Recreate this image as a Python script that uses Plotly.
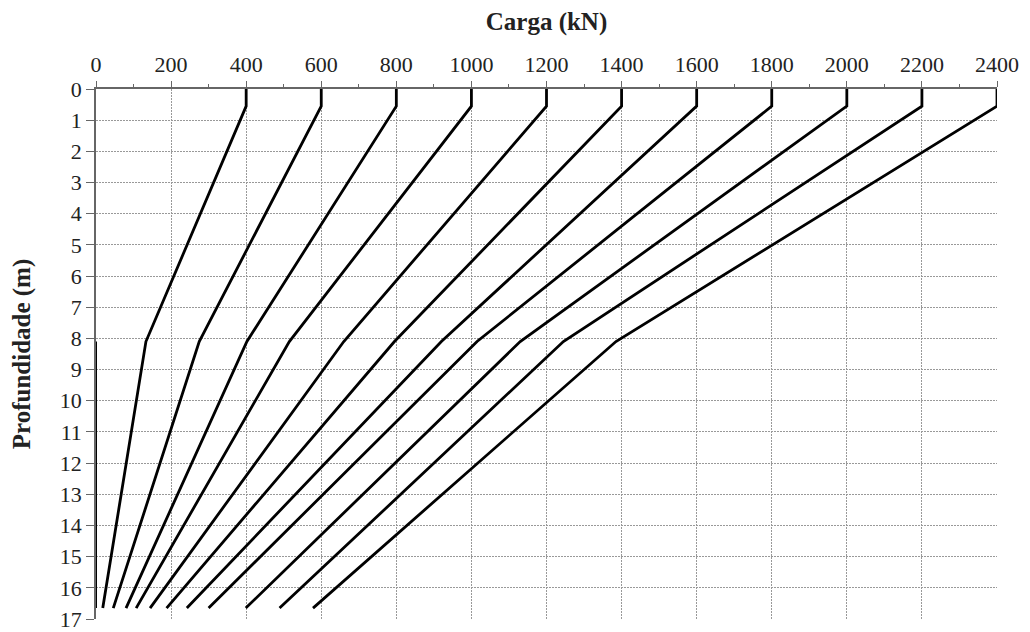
import plotly.graph_objects as go

# Load at head of pile (kN) for each curve
loads = [400, 600, 800, 1000, 1200, 1400, 1600, 1800, 2000, 2200, 2400]
# Load at ~8.1 m (change of slope)
knee_loads = [133, 275, 402, 515, 660, 795, 920, 1015, 1130, 1245, 1385]
# Load at the pile tip (~16.65 m)
tip_loads = [18, 46, 80, 107, 144, 188, 242, 300, 399, 489, 578]
# Depths of the profile points (m)
depths = [0, 0.55, 8.1, 16.65]
# Extra segment drawn along the vertical axis
axis_seg_x = [0, 0]
axis_seg_y = [8.1, 16.65]

fig = go.Figure()
for T, K, B in zip(loads, knee_loads, tip_loads):
    fig.add_trace(go.Scatter(
        x=[T, T, K, B], y=depths, mode="lines",
        line=dict(color="black", width=2.8),
        name=f"{T} kN", showlegend=False, cliponaxis=False))

fig.add_trace(go.Scatter(
    x=axis_seg_x, y=axis_seg_y, mode="lines",
    line=dict(color="black", width=2), showlegend=False, cliponaxis=False))

font_family = "Liberation Serif, Times New Roman, serif"
grid_dash = "2px,1px"
fig.update_layout(
    width=1022, height=624,
    margin=dict(l=88, r=33, t=81, b=13),
    paper_bgcolor="white", plot_bgcolor="white",
    font=dict(family=font_family, size=22, color="#222"),
    xaxis=dict(
        side="top", range=[0, 2400], dtick=200, tick0=0, automargin=False,
        showline=True, linecolor="#666", linewidth=1.5,
        showgrid=True, gridcolor="#999999", gridwidth=1, griddash=grid_dash,
        ticks="outside", ticklen=6, tickcolor="#666",
        minor=dict(dtick=100, ticks="outside", ticklen=3, tickcolor="#666", showgrid=False),
        zeroline=False,
        title=dict(text="<b>Carga (kN)</b>", font=dict(size=25, family=font_family, color="#222"), standoff=16),
    ),
    yaxis=dict(
        range=[17, 0], dtick=1, tick0=0, automargin=False,
        showline=True, linecolor="#666", linewidth=1.5,
        showgrid=True, gridcolor="#999999", gridwidth=1, griddash=grid_dash,
        ticks="outside", ticklen=8, tickcolor="#666",
        zeroline=False,
        title=dict(text="<b>Profundidade (m)</b>", font=dict(size=25, family=font_family, color="#222"), standoff=24),
    ),
)

fig.write_html("out.html")
